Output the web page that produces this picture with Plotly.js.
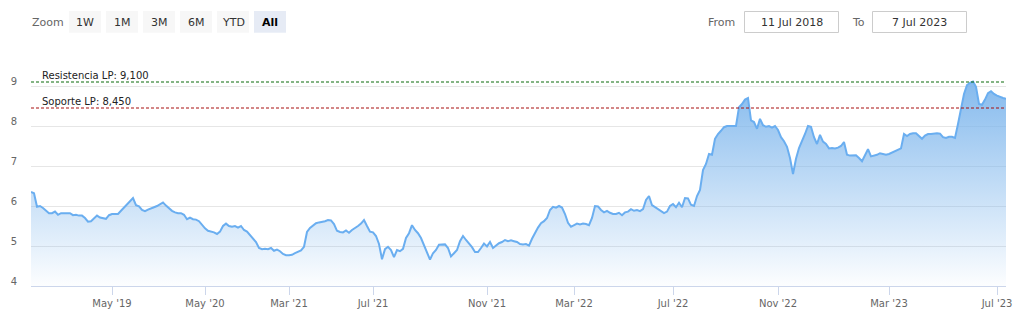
<!DOCTYPE html>
<html><head><meta charset="utf-8">
<script src="https://cdn.plot.ly/plotly-3.0.1.min.js"></script>
<style>html,body{margin:0;padding:0;background:#fff;overflow:hidden}#chart{width:1025px;height:319px}</style>
</head><body><div id="chart"></div>
<script>
const dates = [
'2018-07-11','2018-07-22','2018-08-02','2018-08-13','2018-08-24','2018-09-03','2018-09-14','2018-09-25','2018-10-06','2018-10-17','2018-10-28','2018-11-08','2018-11-19','2018-11-30','2018-12-10','2018-12-21','2019-01-01','2019-01-12','2019-01-23','2019-02-03','2019-02-14','2019-02-25','2019-03-08','2019-03-18','2019-03-29','2019-04-09','2019-04-20','2019-05-01',
'2019-05-13','2019-05-25','2019-06-05','2019-06-17','2019-06-29','2019-07-11','2019-07-23','2019-08-03','2019-08-15','2019-08-27','2019-09-08','2019-09-20','2019-10-02','2019-10-13','2019-10-25','2019-11-06','2019-11-18','2019-11-30','2019-12-11','2019-12-23','2020-01-04','2020-01-16','2020-01-28','2020-02-08','2020-02-20','2020-03-03','2020-03-15','2020-03-27','2020-04-07','2020-04-19','2020-05-01',
'2020-05-12','2020-05-23','2020-06-03','2020-06-13','2020-06-24','2020-07-05','2020-07-16','2020-07-27','2020-08-07','2020-08-18','2020-08-28','2020-09-08','2020-09-19','2020-09-30','2020-10-11','2020-10-22','2020-11-02','2020-11-12','2020-11-23','2020-12-04','2020-12-15','2020-12-26','2021-01-06','2021-01-17','2021-01-27','2021-02-07','2021-02-18','2021-03-01',
'2021-03-05','2021-03-10','2021-03-14','2021-03-18','2021-03-23','2021-03-27','2021-03-31','2021-04-05','2021-04-09','2021-04-14','2021-04-18','2021-04-22','2021-04-27','2021-05-01','2021-05-05','2021-05-10','2021-05-14','2021-05-18','2021-05-23','2021-05-27','2021-05-31','2021-06-05','2021-06-09','2021-06-14','2021-06-18','2021-06-22','2021-06-27','2021-07-01',
'2021-07-04','2021-07-07','2021-07-11','2021-07-14','2021-07-17','2021-07-20','2021-07-24','2021-07-27','2021-07-30','2021-08-02','2021-08-06','2021-08-09','2021-08-12','2021-08-15','2021-08-19','2021-08-22','2021-08-25','2021-08-28','2021-08-31','2021-09-04','2021-09-07','2021-09-10','2021-09-13','2021-09-17','2021-09-20','2021-09-23','2021-09-26','2021-09-30','2021-10-03','2021-10-06','2021-10-09','2021-10-13','2021-10-16','2021-10-19','2021-10-22','2021-10-26','2021-10-29','2021-11-01',
'2021-11-05','2021-11-09','2021-11-13','2021-11-18','2021-11-22','2021-11-26','2021-11-30','2021-12-04','2021-12-08','2021-12-12','2021-12-17','2021-12-21','2021-12-25','2021-12-29','2022-01-02','2022-01-06','2022-01-10','2022-01-14','2022-01-19','2022-01-23','2022-01-27','2022-01-31','2022-02-04','2022-02-08','2022-02-12','2022-02-17','2022-02-21','2022-02-25','2022-03-01',
'2022-03-05','2022-03-08','2022-03-12','2022-03-16','2022-03-19','2022-03-23','2022-03-27','2022-03-31','2022-04-03','2022-04-07','2022-04-11','2022-04-14','2022-04-18','2022-04-22','2022-04-25','2022-04-29','2022-05-03','2022-05-07','2022-05-10','2022-05-14','2022-05-18','2022-05-21','2022-05-25','2022-05-29','2022-06-01','2022-06-05','2022-06-09','2022-06-12','2022-06-16','2022-06-20','2022-06-24','2022-06-27','2022-07-01',
'2022-07-05','2022-07-08','2022-07-12','2022-07-15','2022-07-19','2022-07-22','2022-07-26','2022-07-29','2022-08-02','2022-08-05','2022-08-09','2022-08-12','2022-08-16','2022-08-19','2022-08-23','2022-08-26','2022-08-30','2022-09-02','2022-09-06','2022-09-09','2022-09-13','2022-09-16','2022-09-20','2022-09-23','2022-09-27','2022-09-30','2022-10-04','2022-10-07','2022-10-11','2022-10-14','2022-10-18','2022-10-21','2022-10-25','2022-10-28','2022-11-01',
'2022-11-04','2022-11-07','2022-11-11','2022-11-14','2022-11-17','2022-11-20','2022-11-24','2022-11-27','2022-11-30','2022-12-03','2022-12-07','2022-12-10','2022-12-13','2022-12-16','2022-12-20','2022-12-23','2022-12-26','2022-12-29','2023-01-02','2023-01-05','2023-01-08','2023-01-11','2023-01-15','2023-01-18','2023-01-21','2023-01-24','2023-01-28','2023-01-31','2023-02-03','2023-02-06','2023-02-10','2023-02-13','2023-02-16','2023-02-19','2023-02-23','2023-02-26','2023-03-01',
'2023-03-04','2023-03-08','2023-03-11','2023-03-15','2023-03-18','2023-03-21','2023-03-25','2023-03-28','2023-04-01','2023-04-04','2023-04-07','2023-04-11','2023-04-14','2023-04-17','2023-04-21','2023-04-24','2023-04-28','2023-05-01','2023-05-04','2023-05-08','2023-05-11','2023-05-15','2023-05-18','2023-05-21','2023-05-25','2023-05-28','2023-06-01','2023-06-04','2023-06-07','2023-06-11','2023-06-14','2023-06-17','2023-06-21','2023-06-24','2023-06-28','2023-07-01',
'2023-07-03','2023-07-05','2023-07-07'
];
const prices = [
6.35,6.32,5.98,6.0,5.95,5.88,5.82,5.82,5.86,5.78,5.82,5.82,5.82,5.82,5.77,5.78,5.76,5.76,5.70,5.61,5.62,5.70,5.76,5.71,5.70,5.68,5.77,5.80,
5.80,5.80,5.88,5.96,6.04,6.14,6.20,6.02,5.99,5.90,5.87,5.91,5.95,5.97,6.0,6.05,6.09,6.01,5.94,5.88,5.84,5.82,5.82,5.78,5.67,5.71,5.67,5.66,5.62,5.52,5.44,
5.38,5.36,5.34,5.30,5.36,5.50,5.56,5.50,5.48,5.50,5.46,5.50,5.40,5.36,5.28,5.20,5.10,4.95,4.92,4.93,4.92,4.95,4.88,4.91,4.87,4.80,4.77,4.77,
4.78,4.82,4.85,4.89,4.98,5.35,5.45,5.50,5.57,5.59,5.60,5.62,5.65,5.64,5.55,5.38,5.35,5.34,5.39,5.33,5.40,5.44,5.50,5.56,5.65,5.50,5.36,5.34,
5.25,5.05,4.67,4.92,4.98,4.90,4.72,4.90,4.87,4.93,5.20,5.32,5.52,5.40,5.32,5.20,5.02,4.85,4.66,4.82,4.90,5.03,5.04,5.04,4.95,4.74,4.82,4.90,5.12,5.25,5.15,5.06,4.97,4.85,4.85,4.95,5.06,4.99,
5.10,4.95,5.01,5.07,5.10,5.15,5.12,5.14,5.12,5.10,5.05,5.04,5.05,5.01,5.18,5.33,5.46,5.57,5.62,5.70,5.90,5.98,5.96,6.0,5.96,5.80,5.58,5.48,5.52,
5.56,5.54,5.56,5.55,5.52,5.70,6.0,5.99,5.90,5.84,5.88,5.83,5.80,5.80,5.83,5.77,5.84,5.86,5.92,5.88,5.90,5.87,5.92,6.15,6.25,6.02,5.97,5.92,5.86,5.82,5.86,6.0,6.05,
5.97,6.08,5.97,6.20,6.19,6.03,6.0,6.25,6.40,6.90,7.05,7.30,7.28,7.68,7.80,7.88,7.97,8.0,8.0,8.0,8.0,8.47,8.55,8.66,8.70,8.14,8.10,7.93,8.18,8.02,7.98,8.0,7.96,8.0,7.90,
7.72,7.62,7.48,7.20,6.80,7.18,7.45,7.61,7.80,8.0,7.98,7.72,7.55,7.78,7.61,7.55,7.44,7.45,7.44,7.46,7.50,7.60,7.28,7.26,7.27,7.27,7.20,7.12,7.27,7.42,7.24,7.26,7.28,7.32,7.30,7.28,7.30,
7.33,7.37,7.40,7.44,7.80,7.75,7.80,7.82,7.82,7.75,7.68,7.76,7.80,7.80,7.81,7.82,7.81,7.72,7.70,7.73,7.73,7.70,8.05,8.42,8.80,9.02,9.08,9.11,8.98,8.55,8.53,8.66,8.82,8.87,8.80,8.76,
8.72,8.70,8.68
];
const tickDates = ['2019-05-01','2020-05-01','2021-03-01','2021-07-01','2021-11-01','2022-03-01','2022-07-01','2022-11-01','2023-03-01','2023-07-01'];
const tickLabels = ["May '19","May '20","Mar '21","Jul '21","Nov '21","Mar '22","Jul '22","Nov '22","Mar '23","Jul '23"];
const yTicks = [4,5,6,7,8,9];
const levelValues = [9.1, 8.45];
const levelLabels = ['Resistencia LP: 9,100', 'Soporte LP: 8,450'];
const levelColors = ['#0b6b0b', '#a80f0f'];
const zoomLabels = ['1W','1M','3M','6M','YTD','All'];
const months = ['Jan','Feb','Mar','Apr','May','Jun','Jul','Aug','Sep','Oct','Nov','Dec'];

// plot geometry (pixels)
const L = 31, R = 1006, T = 66, B = 286;
const px = x => (x - L) / (R - L);
const py = y => (B - y) / (B - T);
const fmt = d => { const p = d.split('-'); return (+p[2]) + ' ' + months[+p[1]-1] + ' ' + p[0]; };

const tickvals = tickDates.map(td => dates.find(d => d >= td));

const trace = {
  type: 'scatter', mode: 'lines', x: dates, y: prices,
  line: {color: '#6aaef0', width: 2},
  fill: 'tozeroy',
  fillgradient: {type: 'vertical', start: 4, stop: 9.5,
    colorscale: [[0, 'rgba(124,181,236,0.02)'], [1, 'rgba(124,181,236,1)']]},
  hoverinfo: 'skip'
};

const shapes = [];
const annotations = [];
levelValues.forEach((v, i) => {
  shapes.push({type: 'line', xref: 'paper', yref: 'y', x0: 0, x1: 1, y0: v, y1: v,
    line: {color: levelColors[i], width: 1, dash: '3px,2px'}, layer: 'above'});
  annotations.push({xref: 'paper', yref: 'y', x: px(40), y: v, xanchor: 'left', yanchor: 'middle',
    yshift: 7, text: levelLabels[i], showarrow: false,
    font: {family: 'DejaVu Sans', size: 10, color: '#222'}});
});

// range selector (drawn)
annotations.push({xref: 'paper', yref: 'paper', x: px(47.5), y: py(22), xanchor: 'center', yanchor: 'middle',
  text: 'Zoom', showarrow: false, font: {family: 'DejaVu Sans', size: 11, color: '#666'}});
zoomLabels.forEach((lab, i) => {
  const x0 = 69 + 37 * i, x1 = x0 + 32;
  const sel = lab === 'All';
  shapes.push({type: 'rect', xref: 'paper', yref: 'paper', x0: px(x0), x1: px(x1), y0: py(32.7), y1: py(11),
    fillcolor: sel ? '#e6ebf5' : '#f7f7f7', line: {width: 0}});
  annotations.push({xref: 'paper', yref: 'paper', x: px((x0 + x1) / 2), y: py(22), xanchor: 'center', yanchor: 'middle',
    text: sel ? '<b>' + lab + '</b>' : lab, showarrow: false,
    font: {family: 'DejaVu Sans', size: 11, color: sel ? '#000' : '#333'}});
});
annotations.push({xref: 'paper', yref: 'paper', x: px(721.5), y: py(22), xanchor: 'center', yanchor: 'middle',
  text: 'From', showarrow: false, font: {family: 'DejaVu Sans', size: 11, color: '#666'}});
annotations.push({xref: 'paper', yref: 'paper', x: px(858), y: py(22), xanchor: 'center', yanchor: 'middle',
  text: 'To', showarrow: false, font: {family: 'DejaVu Sans', size: 11, color: '#666'}});
[[744.5, 838.5, fmt(dates[0])], [872.5, 966.5, fmt(dates[dates.length - 1])]].forEach(b => {
  shapes.push({type: 'rect', xref: 'paper', yref: 'paper', x0: px(b[0]), x1: px(b[1]), y0: py(32.5), y1: py(11.5),
    fillcolor: '#ffffff', line: {color: '#cccccc', width: 1}});
  annotations.push({xref: 'paper', yref: 'paper', x: px((b[0] + b[1]) / 2), y: py(22), xanchor: 'center', yanchor: 'middle',
    text: b[2], showarrow: false, font: {family: 'DejaVu Sans', size: 11, color: '#333'}});
});

const layout = {
  width: 1025, height: 319,
  margin: {l: L, r: 1025 - R, t: T, b: 319 - B, pad: 0},
  paper_bgcolor: '#fff', plot_bgcolor: '#fff',
  showlegend: false,
  font: {family: 'DejaVu Sans', color: '#666'},
  xaxis: {type: 'category', range: [0, dates.length - 1], tickmode: 'array', tickvals: tickvals, ticktext: tickLabels,
    showgrid: false, zeroline: false, showline: true, linecolor: '#ccd6eb', linewidth: 1,
    ticks: 'outside', ticklen: 8, tickcolor: '#ccd6eb', tickwidth: 1,
    tickfont: {family: 'DejaVu Sans', size: 10, color: '#666'}, fixedrange: true},
  yaxis: {range: [4, 9.5], tickmode: 'array', tickvals: yTicks, ticktext: yTicks.map(String),
    showgrid: true, gridcolor: '#e6e6e6', gridwidth: 1, zeroline: false, showline: false, ticks: '',
    ticklabelstandoff: 13, ticklabelshift: -5,
    tickfont: {family: 'DejaVu Sans', size: 10, color: '#666'}, fixedrange: true},
  shapes: shapes, annotations: annotations
};

Plotly.newPlot('chart', [trace], layout, {displayModeBar: false, staticPlot: true});
</script>
</body></html>
